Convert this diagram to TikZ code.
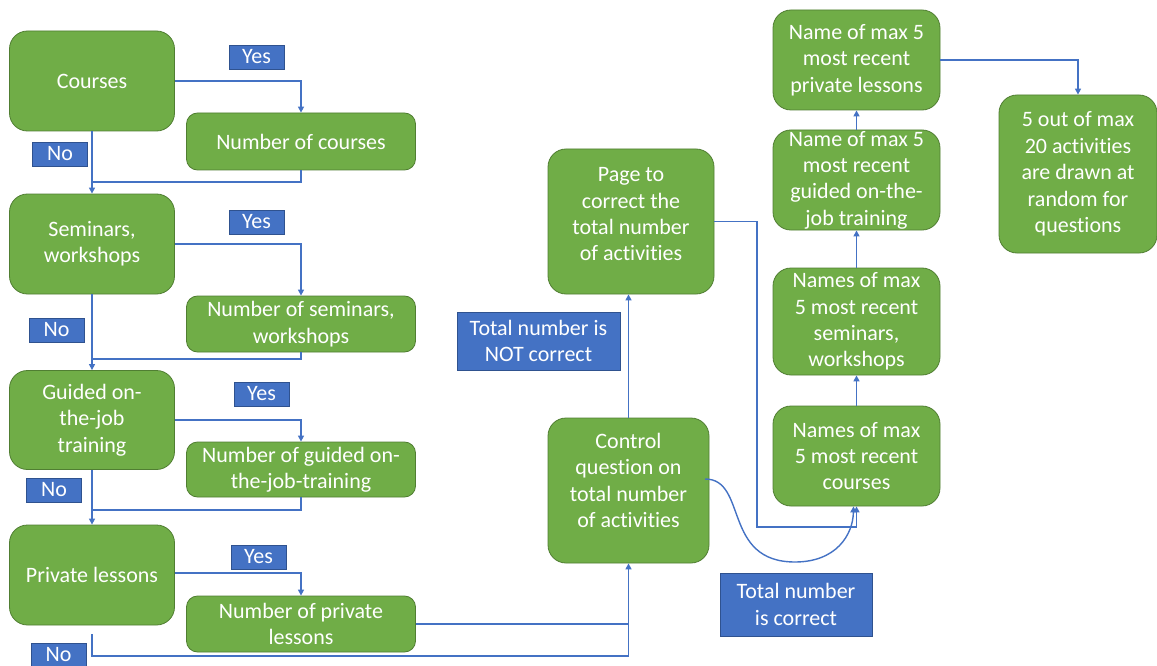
\documentclass[tikz,border=0pt]{standalone}
\usepackage{fontspec}
\setmainfont{Carlito}[Ligatures={NoCommon,NoRare}]
\usetikzlibrary{arrows.meta}
\definecolor{gfill}{HTML}{70AD47}
\definecolor{gdraw}{HTML}{507E32}
\definecolor{bfill}{HTML}{4472C4}
\definecolor{bdraw}{HTML}{2F528F}
\tikzset{
  gbox/.style={draw=gdraw, line width=0.8pt, fill=gfill, text=white, rounded corners=18pt, align=center, inner sep=1pt, font=\fontsize{22}{26.4}\selectfont},
  gsmall/.style={gbox, rounded corners=11pt},
  lbl/.style={draw=bdraw, line width=0.8pt, fill=bfill, text=white, align=center, inner sep=1pt, font=\fontsize{22}{26.4}\selectfont},
  conn/.style={draw=bfill, line width=1.4pt},
  arr/.style={conn, -{Triangle[width=6pt,length=6pt]}},
}
\begin{document}
\begin{tikzpicture}[x=1pt,y=-1pt]
\useasboundingbox (0,0) rectangle (1157,666);
% left column
\node[gbox, minimum width=165pt, minimum height=100pt] (courses) at (92,81) {Courses};
\node[gbox, minimum width=165pt, minimum height=100pt] (seminars) at (92,244) {Seminars,\\workshops};
\node[gbox, minimum width=165pt, minimum height=99pt] (guided) at (92,420) {Guided on-\\the-job\\training};
\node[gbox, minimum width=165pt, minimum height=100pt] (private) at (92,575) {Private lessons};
% number boxes
\node[gsmall, minimum width=229pt, minimum height=57pt] (ncourses) at (301,141.5) {Number of courses};
\node[gsmall, minimum width=229pt, minimum height=56pt] (nseminars) at (301,324) {Number of seminars,\\workshops};
\node[gsmall, minimum width=229pt, minimum height=55pt] (nguided) at (301,469.5) {Number of guided on-\\the-job-training};
\node[gsmall, minimum width=229pt, minimum height=56pt] (nprivate) at (301,624) {Number of private\\lessons};
% labels
\node[lbl, minimum width=55pt, minimum height=24pt] (yes1) at (256.5,57) {Yes};
\node[lbl, minimum width=55pt, minimum height=24pt] (no1) at (60,154) {No};
\node[lbl, minimum width=55pt, minimum height=24pt] (yes2) at (256.5,222) {Yes};
\node[lbl, minimum width=55pt, minimum height=24pt] (no2) at (56.5,330) {No};
\node[lbl, minimum width=55pt, minimum height=24pt] (yes3) at (261.5,394) {Yes};
\node[lbl, minimum width=55pt, minimum height=24pt] (no3) at (54,490) {No};
\node[lbl, minimum width=55pt, minimum height=24pt] (yes4) at (258.5,557) {Yes};
\node[lbl, minimum width=55pt, minimum height=24pt] (no4) at (58.5,655) {No};
% middle
\node[gbox, minimum width=161pt, minimum height=145pt] (control) at (628.5,490.5) {Control\\question on\\total number\\of activities\\[-6pt]\mbox{}};
\node[gbox, minimum width=166pt, minimum height=145pt] (page) at (631,221.5) {Page to\\correct the\\total number\\of activities\\[-12pt]\mbox{}};
\node[lbl, minimum width=163pt, minimum height=58pt] (notcorrect) at (538.5,341) {Total number is\\NOT correct};
\node[lbl, minimum width=152pt, minimum height=63pt] (correct) at (796,604.5) {Total number\\is correct};
% right column
\node[gbox, minimum width=167pt, minimum height=100pt] (rcourses) at (856.5,456) {Names of max\\5 most recent\\courses};
\node[gbox, minimum width=167pt, minimum height=107pt] (rseminars) at (856.5,321.5) {Names of max\\5 most recent\\seminars,\\workshops};
\node[gbox, minimum width=167pt, minimum height=100pt] (rguided) at (856.5,180) {Name of max 5\\most recent\\guided on-the-\\job training};
\node[gbox, minimum width=167pt, minimum height=100pt] (rprivate) at (856.5,60) {Name of max 5\\most recent\\private lessons};
\node[gbox, minimum width=158pt, minimum height=158pt] (random) at (1078,174) {5 out of max\\20 activities\\are drawn at\\random for\\questions};
% join points
\coordinate (j1) at (92,182);
\coordinate (j2) at (92,359);
\coordinate (j3) at (92,510);
\coordinate (p0) at (92,634);
\coordinate (p1) at (92,656);
\coordinate (k1) at (757,527);
\coordinate (c1) at (705,479);
% left connectors
\draw[arr] (courses.east) -| (ncourses.north);
\draw[arr] (courses.south) -- (seminars.north);
\draw[conn] (ncourses.south) |- (j1);
\draw[arr] (seminars.east) -| (nseminars.north);
\draw[arr] (seminars.south) -- (guided.north);
\draw[conn] (nseminars.south) |- (j2);
\draw[arr] (guided.east) -| (nguided.north);
\draw[arr] (guided.south) -- (private.north);
\draw[conn] (nguided.south) |- (j3);
\draw[arr] ([yshift=2pt]private.east) -| (nprivate.north);
\draw[arr] (p0) -- (p1) -| (control.south);
\draw[conn] (nprivate.east) -- (nprivate.east -| control.south);
% middle connectors
\draw[arr] (control.north) -- (control.north |- page.south);
\draw[arr] (page.east) -| (k1) -- (k1 -| rcourses.south) -- (rcourses.south);
\draw[arr] (c1) .. controls (748,479) and (722,562) .. (795,562) .. controls (836,562) and (853,535) .. ([xshift=-3pt]rcourses.south);
% right connectors
\draw[arr] (rcourses.north) -- (rseminars.south);
\draw[arr] (rseminars.north) -- (rguided.south);
\draw[arr] (rguided.north) -- (rprivate.south);
\draw[arr] (rprivate.east) -| (random.north);
\end{tikzpicture}
\end{document}
